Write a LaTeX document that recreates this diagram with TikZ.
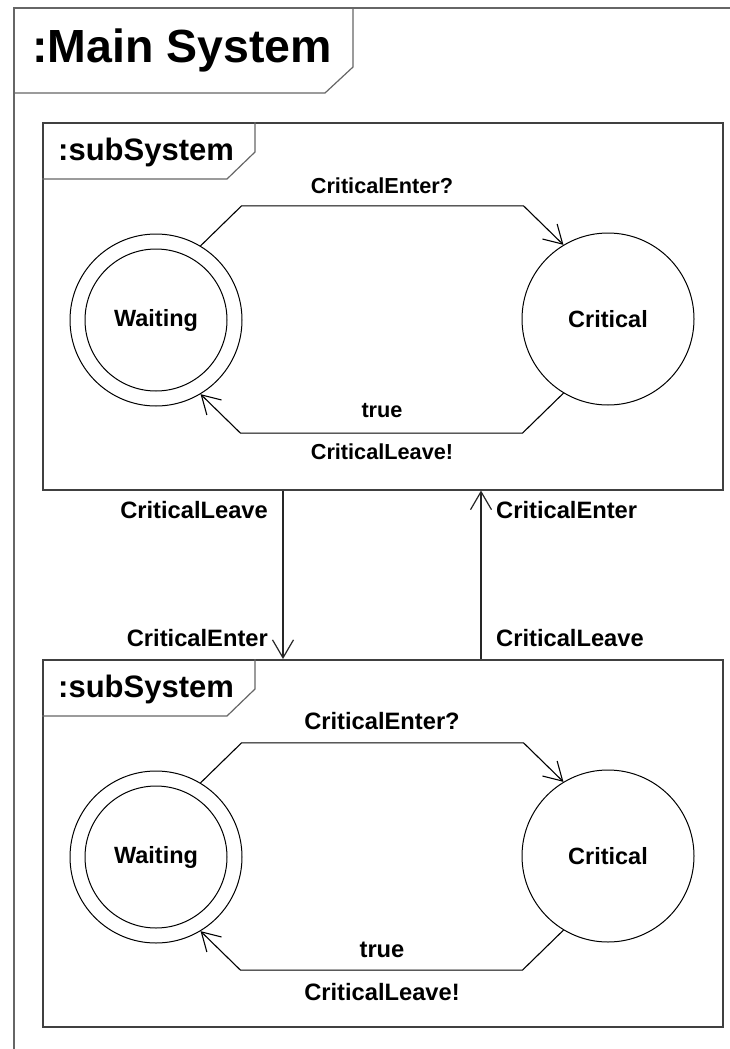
\documentclass[tikz,border=0pt]{standalone}
\usepackage{fontspec}
\setmainfont{Liberation Sans}
\usetikzlibrary{arrows.meta}

\begin{document}
\begin{tikzpicture}[x=1pt,y=1pt,yscale=-1,xscale=1,
  frameline/.style={draw=black!60, line width=1.2pt},
  boxline/.style={draw=black!75, line width=1.5pt},
  state/.style={circle, draw, line width=1pt, minimum size=172pt, inner sep=0pt, font=\fontsize{23.5}{28}\selectfont\bfseries},
  innerstate/.style={circle, draw, line width=1pt, minimum size=142pt, inner sep=0pt, font=\fontsize{23.5}{28}\selectfont\bfseries},
  trans/.style={line width=1.1pt, -{Straight Barb[length=18pt,width=21pt]}},
  flow/.style={draw=black!85, line width=1.2pt, -{Straight Barb[length=18pt,width=21pt]}},
  lbl/.style={font=\fontsize{23.7}{28}\selectfont\bfseries, anchor=base, inner sep=0pt},
  tagtext/.style={anchor=base west, inner sep=0pt, font=\fontsize{31}{34}\selectfont\bfseries}]

\useasboundingbox (0,0) rectangle (730,1049);

% main frame
\draw[frameline] (14,1049) -- (14,8) -- (730,8);
\draw[frameline] (353,8) -- (353,67) -- (325,93) -- (14,93);
\node[anchor=base west, inner sep=0pt, font=\fontsize{46.5}{50}\selectfont\bfseries] (title) at (32,63) {:Main System};

% first subsystem
\node[boxline, rectangle, minimum width=680pt, minimum height=367pt, anchor=north west] (sub1) at (42,122) {};
\draw[frameline] (sub1.north west) ++(213,0) -- ++(0,30) -- ++(-28,27) -- ++(-185,0);
\node[tagtext] (tag1) at (58,160) {:subSystem};

\node[state] (w1) at (156,320) {};
\node[innerstate] (w1in) at (w1) {Waiting};
\node[state] (c1) at (608,319) {Critical};

\draw[trans] (w1.59) -- ++(41,-40) -- ++(282,0) -- (c1.121);
\draw[trans] (c1.-121) -- ++(-41,40) -- ++(-282,0) -- (w1.-59);

\node[lbl, font=\fontsize{21.7}{26}\selectfont\bfseries] (enter1) at (382,193) {CriticalEnter?};
\node[lbl, font=\fontsize{21.7}{26}\selectfont\bfseries] (true1) at (382,417) {true};
\node[lbl, font=\fontsize{21.7}{26}\selectfont\bfseries] (leave1) at (382,459) {CriticalLeave!};

% second subsystem
\node[boxline, rectangle, minimum width=680pt, minimum height=367pt, anchor=north west] (sub2) at (42,659) {};
\draw[frameline] (sub2.north west) ++(213,0) -- ++(0,30) -- ++(-28,27) -- ++(-185,0);
\node[tagtext] (tag2) at (58,697) {:subSystem};

\node[state] (w2) at (156,857) {};
\node[innerstate] (w2in) at (w2) {Waiting};
\node[state] (c2) at (608,856) {Critical};

\draw[trans] (w2.59) -- ++(41,-40) -- ++(282,0) -- (c2.121);
\draw[trans] (c2.-121) -- ++(-41,40) -- ++(-282,0) -- (w2.-59);

\node[lbl] (enter2) at (382,729) {CriticalEnter?};
\node[lbl] (true2) at (382,957) {true};
\node[lbl] (leave2) at (382,1000) {CriticalLeave!};

% links between the subsystems
\coordinate (dnx) at (283,0);
\coordinate (upx) at (481,0);
\draw[flow] (sub1.south -| dnx) -- (sub2.north -| dnx);
\draw[flow] (sub2.north -| upx) -- (sub1.south -| upx);

\node[lbl, anchor=base east] (outleave) at (268,518) {CriticalLeave};
\node[lbl, anchor=base east] (inenter) at (268,646) {CriticalEnter};
\node[lbl, anchor=base west] (outenter) at (496,518) {CriticalEnter};
\node[lbl, anchor=base west] (inleave) at (496,646) {CriticalLeave};

\end{tikzpicture}
\end{document}
